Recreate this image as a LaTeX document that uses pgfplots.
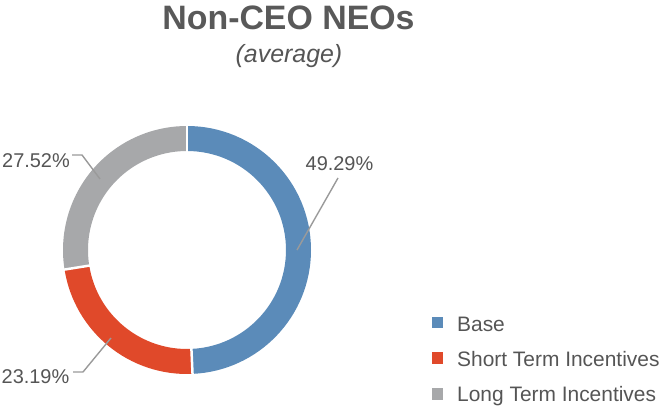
\documentclass[border=0pt]{standalone}
\usepackage{fontspec}
\setmainfont{Liberation Sans}
\usepackage{pgfplots}
\pgfplotsset{compat=1.18}
\definecolor{baseC}{HTML}{5B8BB9}
\definecolor{stiC}{HTML}{E0492A}
\definecolor{ltiC}{HTML}{A7A8AA}
\definecolor{txtC}{HTML}{555555}
\definecolor{ttlC}{HTML}{595959}
\definecolor{leadC}{HTML}{9A9A9A}
% shares (percent)
\def\vBase{49.29}
\def\vSTI{23.19}
\def\vLTI{27.52}
\pgfmathsetmacro{\aA}{90}
\pgfmathsetmacro{\aB}{90-\vBase*3.6}
\pgfmathsetmacro{\aC}{\aB-\vSTI*3.6}
\pgfmathsetmacro{\aD}{\aC-\vLTI*3.6}
\begin{document}
\begin{tikzpicture}
\path[use as bounding box] (0,0) rectangle (668bp,407bp);
\begin{axis}[
  at={(0,0)}, anchor=south west,
  x=1bp, y=1bp, xmin=0, xmax=668, ymin=0, ymax=407,
  hide axis, clip=false,
]
% donut (centre at image (187,250) -> axis (187,157))
\draw[baseC, line width=25bp] (axis cs:187,157) ++(\aA:111.5bp) arc[start angle=\aA, end angle=\aB, radius=111.5bp];
\draw[stiC, line width=25bp] (axis cs:187,157) ++(\aB:111.5bp) arc[start angle=\aB, end angle=\aC, radius=111.5bp];
\draw[ltiC, line width=25bp] (axis cs:187,157) ++(\aC:111.5bp) arc[start angle=\aC, end angle=\aD, radius=111.5bp];
\draw[white, line width=2.5bp] (axis cs:187,157) ++(\aA:96bp) -- ++(\aA:32bp);
\draw[white, line width=2.5bp] (axis cs:187,157) ++(\aB:96bp) -- ++(\aB:32bp);
\draw[white, line width=2.5bp] (axis cs:187,157) ++(\aC:96bp) -- ++(\aC:32bp);
% leader lines
\draw[leadC, line width=1.4bp] (axis cs:297,157) -- (axis cs:338,229);
\draw[leadC, line width=1.4bp] (axis cs:72,252) -- (axis cs:82,252) -- (axis cs:100,228);
\draw[leadC, line width=1.4bp] (axis cs:73,35) -- (axis cs:83,35) -- (axis cs:111,69);
% value labels
\node[anchor=base, inner sep=0, text=txtC, font=\fontsize{20}{24}\selectfont] at (axis cs:339.5,237) {49.29\%};
\node[anchor=base east, inner sep=0, text=txtC, font=\fontsize{20}{24}\selectfont] at (axis cs:70,240) {27.52\%};
\node[anchor=base east, inner sep=0, text=txtC, font=\fontsize{20}{24}\selectfont] at (axis cs:69.5,24) {23.19\%};
% title
\node[anchor=base, inner sep=0, text=ttlC, font=\fontsize{34}{40}\selectfont\bfseries] at (axis cs:288.5,378) {Non-CEO NEOs};
\node[anchor=base, inner sep=0, text=txtC, font=\fontsize{25}{30}\selectfont\itshape] at (axis cs:289,345) {(average)};
% legend
\addplot[only marks, mark=square*, mark size=5bp, mark options={fill=baseC, draw=baseC, line width=0pt}] coordinates {(437,84)};
\addplot[only marks, mark=square*, mark size=5bp, mark options={fill=stiC, draw=stiC, line width=0pt}] coordinates {(437,49)};
\addplot[only marks, mark=square*, mark size=5bp, mark options={fill=ltiC, draw=ltiC, line width=0pt}] coordinates {(437,13)};
\node[anchor=base west, inner sep=0, text=txtC, font=\fontsize{21}{25}\selectfont] at (axis cs:457,76) {Base};
\node[anchor=base west, inner sep=0, text=txtC, font=\fontsize{21}{25}\selectfont] at (axis cs:457,41) {Short Term Incentives};
\node[anchor=base west, inner sep=0, text=txtC, font=\fontsize{21}{25}\selectfont] at (axis cs:457,6) {Long Term Incentives};
\end{axis}
\end{tikzpicture}
\end{document}
